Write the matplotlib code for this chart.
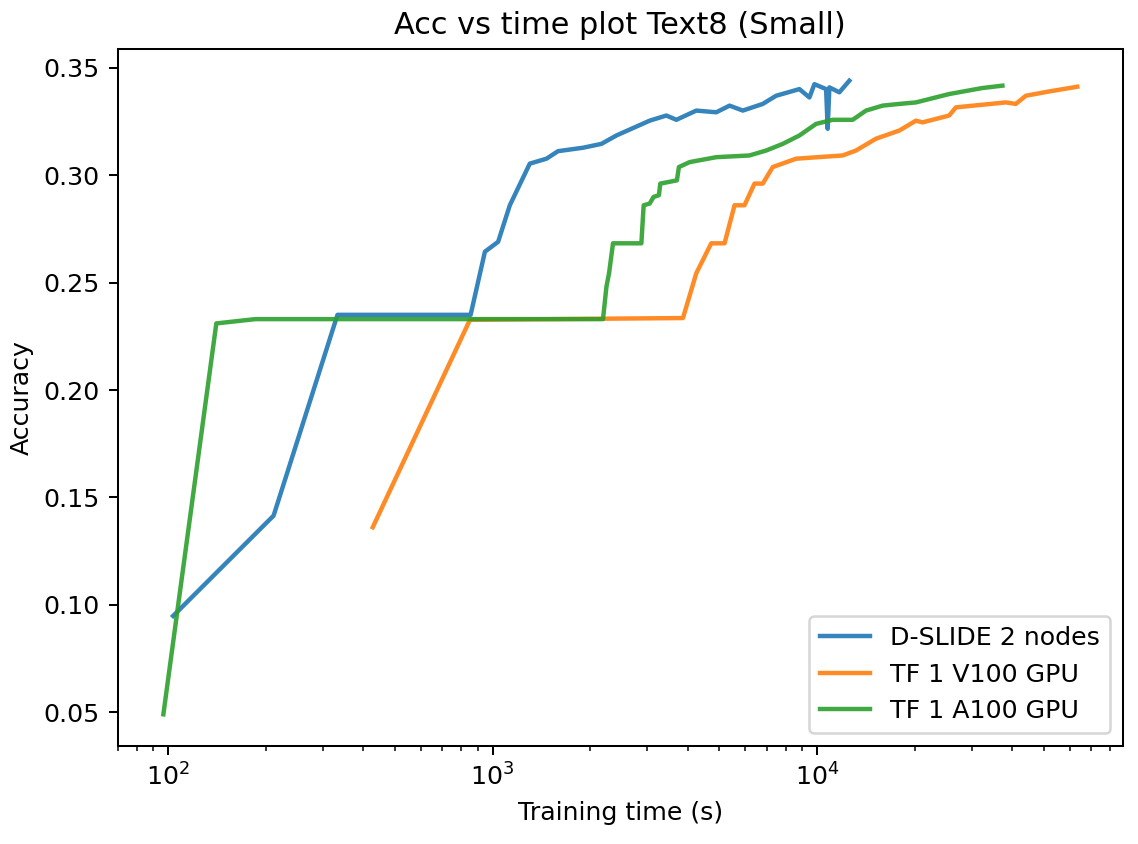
import matplotlib
matplotlib.use("Agg")
import matplotlib.pyplot as plt

# D-SLIDE 2 nodes
slide_time = [103.6, 211.4, 332.6, 855.6, 947, 1040, 1130, 1302, 1466, 1591, 1900,
              2165, 2407, 3048, 3430, 3684, 4244, 4890, 5373, 5903, 6801, 7478,
              8820, 9470, 9810, 10660, 10780, 10910, 11710, 12570]
slide_acc = [0.0948, 0.1415, 0.2350, 0.2350, 0.2644, 0.2690, 0.2860, 0.3054, 0.3077,
             0.3112, 0.3128, 0.3146, 0.3185, 0.3254, 0.3278, 0.3258, 0.3301, 0.3293,
             0.3324, 0.3301, 0.3332, 0.3370, 0.3401, 0.3362, 0.3424, 0.3401, 0.3216,
             0.3409, 0.3386, 0.3440]

# TF 1 V100 GPU
v100_time = [427.3, 851.6, 3860, 4244, 4719, 5186, 5566, 5973, 6414, 6801, 7301,
             8618, 11990, 13180, 15190, 17920, 20170, 21130, 25530, 26780, 38150,
             40960, 43970, 51860, 63360]
v100_acc = [0.1361, 0.2327, 0.2335, 0.2544, 0.2683, 0.2683, 0.2860, 0.2860, 0.2961,
            0.2961, 0.3038, 0.3077, 0.3092, 0.3115, 0.3170, 0.3208, 0.3254, 0.3246,
            0.3278, 0.3316, 0.3339, 0.3332, 0.3370, 0.3390, 0.3412]

# TF 1 A100 GPU
a100_time = [96.7, 140.8, 185.6, 2189, 2243, 2285, 2350, 2874, 2921, 3048, 3135,
             3255, 3287, 3698, 3751, 4047, 4890, 6190, 6967, 7839, 8820, 9930,
             11170, 12870, 14150, 15920, 17920, 20170, 25530, 32320, 37250]
a100_acc = [0.049, 0.231, 0.233, 0.233, 0.2481, 0.2544, 0.2683, 0.2683, 0.2860,
            0.2868, 0.2899, 0.2907, 0.2961, 0.2976, 0.3038, 0.3061, 0.3084, 0.3092,
            0.3115, 0.3146, 0.3185, 0.3239, 0.3258, 0.3258, 0.3301, 0.3324, 0.3332,
            0.3339, 0.3378, 0.3406, 0.3417]

labels = ["D-SLIDE 2 nodes", "TF 1 V100 GPU", "TF 1 A100 GPU"]


def main():
    fig = plt.figure(figsize=(1138 / 182, 844 / 182), dpi=182)
    ax = fig.add_axes([0.1034, 0.1161, 0.8834, 0.8258])

    ax.plot(slide_time, slide_acc, lw=1.75, alpha=0.9, label=labels[0])
    ax.plot(v100_time, v100_acc, lw=1.75, alpha=0.9, label=labels[1])
    ax.plot(a100_time, a100_acc, lw=1.75, alpha=0.9, label=labels[2])

    ax.set_xscale("log")
    ax.set_title("Acc vs time plot Text8 (Small)")
    ax.set_xlabel("Training time (s)")
    ax.set_ylabel("Accuracy")
    ax.legend(loc="lower right")

    fig.savefig("out.png", dpi=182)


if __name__ == "__main__":
    main()
